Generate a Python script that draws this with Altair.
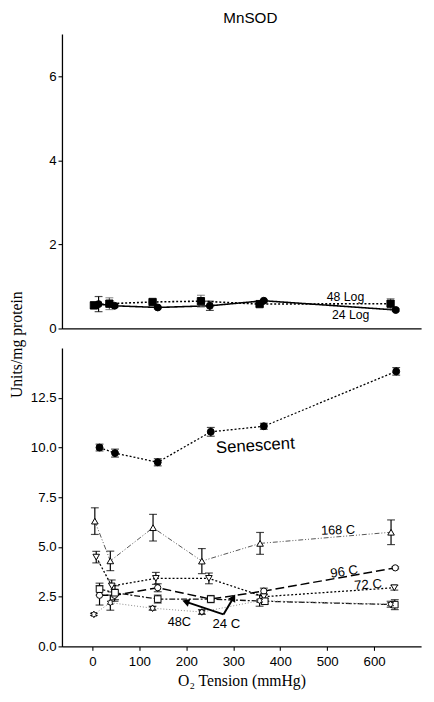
import altair as alt
import pandas as pd

# ---------------- data ----------------
# Top panel: log-phase cultures
log48_x = [3, 36, 128, 231, 356, 635]
log48_y = [0.55, 0.59, 0.63, 0.65, 0.58, 0.59]
log48_e = [0.08, 0.14, 0.04, 0.14, 0.05, 0.12]

log24_x = [13, 47, 139, 250, 365, 646]
log24_y = [0.58, 0.54, 0.50, 0.54, 0.66, 0.44]
log24_e = [0.18, 0.04, 0.03, 0.11, 0.03, 0.03]

# Bottom panel: senescent and confluent cultures
sen_x = [15, 48, 139, 252, 365, 647]
sen_y = [10.0, 9.72, 9.26, 10.79, 11.07, 13.83]
sen_e = [0.17, 0.20, 0.18, 0.22, 0.15, 0.19]

c168_x = [5, 38, 129, 233, 357, 636]
c168_y = [6.30, 4.30, 5.97, 4.29, 5.18, 5.74]
c168_e = [0.67, 0.49, 0.67, 0.63, 0.55, 0.62]

c96_x = [15, 47, 139, 252, 365, 645]
c96_y = [2.57, 2.57, 2.95, 2.38, 2.78, 3.95]
c96_e = [0.49, 0.30, 0.20, 0.10, 0.15, 0.05]

c72_x = [8, 41, 135, 248, 365, 643]
c72_y = [4.49, 3.04, 3.42, 3.42, 2.50, 2.95]
c72_e = [0.29, 0.30, 0.30, 0.27, 0.10, 0.12]

c48_x = [15, 48, 139, 252, 367, 644]
c48_y = [2.88, 2.70, 2.38, 2.38, 2.27, 2.10]
c48_e = [0.30, 0.35, 0.20, 0.18, 0.15, 0.25]

c24_x = [3, 38, 128, 233, 356, 635]
c24_y = [1.61, 2.20, 1.92, 1.73, 2.30, 2.12]
c24_e = [0.05, 0.38, 0.10, 0.12, 0.28, 0.15]

# annotation labels
top_labels = ["48 Log", "24 Log"]
top_label_x = [539, 550]
top_label_y = [0.74, 0.32]
top_label_size = [12.5, 12.5]
top_label_angle = [0, 0]

bot_labels = ["Senescent", "168 C", "96 C", "72 C", "48C", "24 C"]
bot_label_x = [347, 523, 536, 587, 185, 285]
bot_label_y = [10.08, 5.84, 3.75, 3.09, 1.23, 1.12]
bot_label_size = [17, 13, 13.4, 13.4, 13, 13.4]
bot_label_angle = [356.5, 358, 352, 356, 0, 0]

# arrows (vertex -> tip) pointing at the 48C and 24C lines
arrow_names = ["a48", "a24"]
arrow_vx = [279, 279]
arrow_vy = [1.61, 1.61]
arrow_tx = [201, 299]
arrow_ty = [2.23, 2.40]
arrow_angle = [288, 30]

x_ticks = [0, 100, 200, 300, 400, 500, 600]
top_y_ticks = [0, 2, 4, 6]
bot_y_ticks = [0, 2.5, 5, 7.5, 10, 12.5]

# ---------------- styles ----------------
SERIES = ["48 Log", "24 Log", "Senescent", "168 C", "96 C", "72 C", "48 C", "24 C"]
DASHES = [[2, 2], [1, 0], [2, 2], [5, 2, 1, 2, 1, 2], [9, 4], [2, 2], [6, 2, 2, 2], [1, 2]]
LINE_COLORS = ["#000000", "#000000", "#000000", "#555555", "#000000", "#000000", "#111111", "#888888"]
LINE_WIDTHS = [1.6, 1.6, 1.3, 1.0, 1.5, 1.3, 1.3, 1.0]
HEX = "M0,-1L0.29,-0.5L0.87,-0.5L0.58,0L0.87,0.5L0.29,0.5L0,1L-0.29,0.5L-0.87,0.5L-0.58,0L-0.87,-0.5L-0.29,-0.5Z"
SHAPES = ["square", "circle", "circle", "triangle-up", "circle", "triangle-down", "square", HEX]
FILLS = ["#000000", "#000000", "#000000", "#ffffff", "#ffffff", "#ffffff", "#ffffff", "#ffffff"]
SIZES = [55, 50, 50, 45, 40, 45, 45, 45]

SANS = "Liberation Sans"
SERIF = "Liberation Serif"


def frame(name, xs, ys, es, ecol="#000000"):
    return pd.DataFrame({
        "series": name, "x": xs, "y": ys,
        "lo": [y - e for y, e in zip(ys, es)],
        "hi": [y + e for y, e in zip(ys, es)],
        "ecol": ecol,
    })


top_df = pd.concat([
    frame("48 Log", log48_x, log48_y, log48_e, "#666666"),
    frame("24 Log", log24_x, log24_y, log24_e),
])
bot_df = pd.concat([
    frame("Senescent", sen_x, sen_y, sen_e),
    frame("168 C", c168_x, c168_y, c168_e),
    frame("96 C", c96_x, c96_y, c96_e),
    frame("72 C", c72_x, c72_y, c72_e),
    frame("48 C", c48_x, c48_y, c48_e),
    frame("24 C", c24_x, c24_y, c24_e),
])

top_lab = pd.DataFrame({"text": top_labels, "x": top_label_x, "y": top_label_y,
                        "fs": top_label_size, "ang": top_label_angle})
bot_lab = pd.DataFrame({"text": bot_labels, "x": bot_label_x, "y": bot_label_y,
                        "fs": bot_label_size, "ang": bot_label_angle})

arrow_lines = pd.DataFrame({
    "arrow": arrow_names + arrow_names,
    "x": arrow_vx + arrow_tx,
    "y": arrow_vy + arrow_ty,
})
arrow_heads = pd.DataFrame({"arrow": arrow_names, "x": arrow_tx, "y": arrow_ty, "ang": arrow_angle})


def panel(df, lab, ydom, yticks, yfmt, show_x, height, ytitle=None, title=None, extra=None):
    xs = alt.Scale(domain=[-65, 700], nice=False, zero=False)
    ys = alt.Scale(domain=ydom, nice=False, zero=False)
    if show_x:
        xaxis = alt.Axis(values=x_ticks, title="O\u2082 Tension (mmHg)", grid=False,
                         titleFont=SERIF, titleFontSize=16, titleFontWeight="normal",
                         titlePadding=5, labelPadding=4)
    else:
        xaxis = alt.Axis(ticks=False, labels=False, title=None, grid=False)
    yargs = dict(values=yticks, format=yfmt, grid=False, labelPadding=2)
    if ytitle:
        yargs.update(title=ytitle, titleFont=SERIF, titleFontSize=16, titleFontWeight="normal",
                     titleX=-46, titleY=-4, titleAlign="center", titleBaseline="middle",
                     titleAngle=270)
    else:
        yargs.update(title=None)
    yaxis = alt.Axis(**yargs)

    base = alt.Chart(df)
    X = alt.X("x:Q", scale=xs, axis=xaxis)
    Y = alt.Y("y:Q", scale=ys, axis=yaxis)

    rules = base.mark_rule(strokeWidth=1.2).encode(
        x=alt.X("x:Q", scale=xs), y=alt.Y("lo:Q", scale=ys), y2="hi:Q",
        color=alt.Color("ecol:N", scale=None))
    caps = base.transform_fold(["lo", "hi"], as_=["end", "v"]).mark_tick(
        orient="horizontal", size=8, thickness=1.2).encode(
        x=alt.X("x:Q", scale=xs), y=alt.Y("v:Q", scale=ys),
        color=alt.Color("ecol:N", scale=None))
    lines = base.mark_line().encode(
        x=X, y=Y, detail="series:N", order="x:Q",
        color=alt.Color("series:N", scale=alt.Scale(domain=SERIES, range=LINE_COLORS), legend=None),
        strokeDash=alt.StrokeDash("series:N", scale=alt.Scale(domain=SERIES, range=DASHES), legend=None),
        strokeWidth=alt.StrokeWidth("series:N", scale=alt.Scale(type="ordinal", domain=SERIES, range=LINE_WIDTHS), legend=None),
    )
    pts = base.mark_point(filled=True, stroke="#000000", strokeWidth=1, opacity=1).encode(
        x=alt.X("x:Q", scale=xs), y=alt.Y("y:Q", scale=ys),
        shape=alt.Shape("series:N", scale=alt.Scale(domain=SERIES, range=SHAPES), legend=None),
        fill=alt.Fill("series:N", scale=alt.Scale(domain=SERIES, range=FILLS), legend=None),
        size=alt.Size("series:N", scale=alt.Scale(type="ordinal", domain=SERIES, range=SIZES), legend=None),
    )
    texts = alt.Chart(lab).mark_text(font=SANS, align="center", baseline="middle", color="#000000").encode(
        x=alt.X("x:Q", scale=xs), y=alt.Y("y:Q", scale=ys), text="text:N",
        size=alt.Size("fs:Q", scale=None), angle=alt.Angle("ang:Q", scale=None))
    layers = [lines, rules, caps, pts, texts]
    if extra is not None:
        layers += extra(xs, ys)
    props = dict(width=366, height=height)
    if title is not None:
        props["title"] = title
    return alt.layer(*layers).properties(**props)


def arrows(xs, ys):
    al = alt.Chart(arrow_lines).mark_line(color="#000000", strokeWidth=2).encode(
        x=alt.X("x:Q", scale=xs), y=alt.Y("y:Q", scale=ys), detail="arrow:N")
    ah = alt.Chart(arrow_heads).mark_point(shape="triangle", filled=True, color="#000000",
                                           size=70, opacity=1).encode(
        x=alt.X("x:Q", scale=xs), y=alt.Y("y:Q", scale=ys), angle=alt.Angle("ang:Q", scale=None))
    return [al, ah]


top = panel(top_df, top_lab, [0, 7], top_y_ticks, "d", False, 300,
            title=alt.TitleParams("MnSOD", font=SANS, fontSize=15.5, fontWeight="normal",
                                  anchor="middle", dx=9, offset=8, color="#000000"))
bottom = panel(bot_df, bot_lab, [0, 15], bot_y_ticks, ".1f", True, 304,
               ytitle="Units/mg protein", extra=arrows)

chart = alt.vconcat(top, bottom, spacing=20, bounds="flush").configure(
    padding={"left": 0, "top": -4, "right": 5, "bottom": 5}
).configure_view(stroke=None).configure_axis(
    labelFont=SANS, labelFontSize=13.5, labelColor="#000000",
    domainColor="#000000", domainWidth=1.3, tickColor="#000000", tickWidth=1.1,
    tickSize=4, titleColor="#000000"
)

chart.save("out.html", embed_options={"renderer": "svg", "actions": False})
